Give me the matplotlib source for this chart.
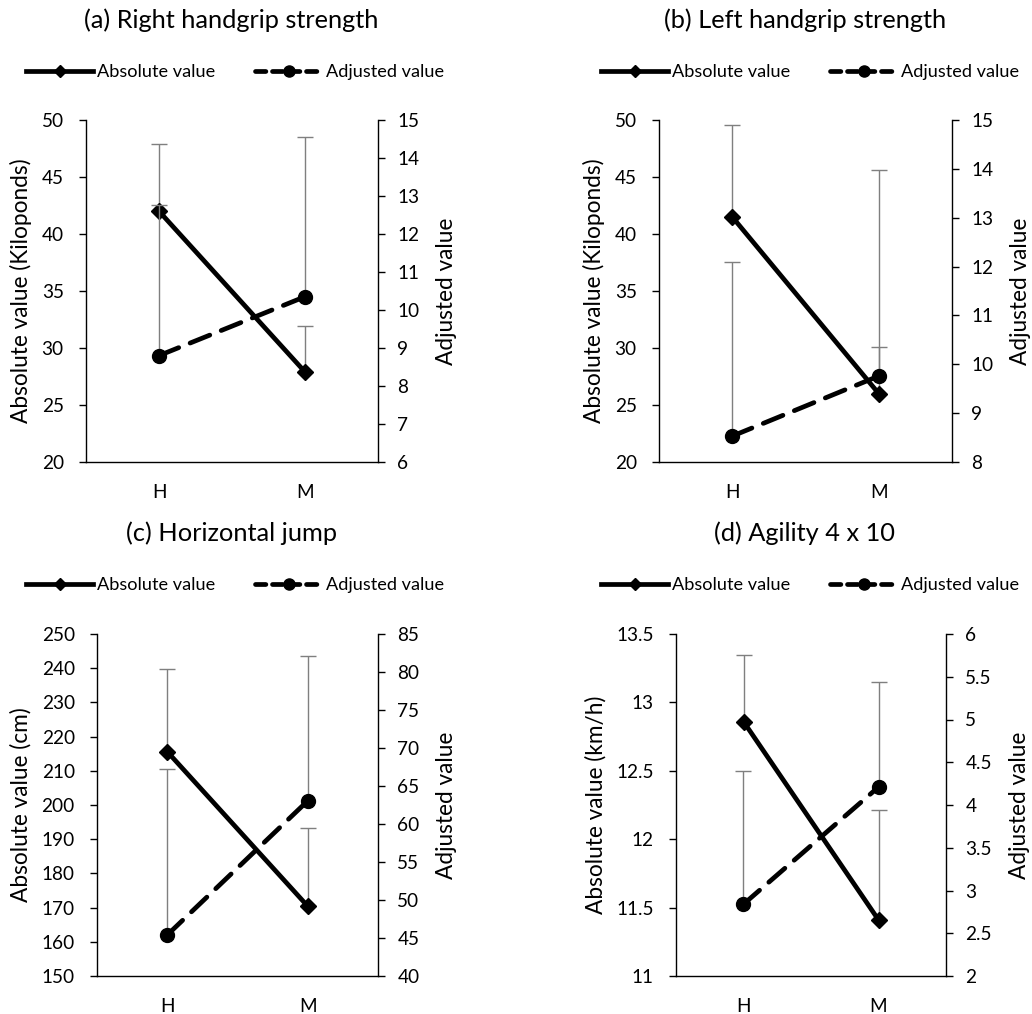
import numpy as np
import matplotlib
matplotlib.use("Agg")
import matplotlib.pyplot as plt
from matplotlib.ticker import FuncFormatter
from matplotlib.lines import Line2D

plt.rcParams["font.family"] = ["Lato", "DejaVu Sans"]

# -----------------------------
# Data
# -----------------------------
groups = ["H", "M"]

titles = ["(a) Right handgrip strength", "(b) Left handgrip strength",
          "(c) Horizontal jump", "(d) Agility 4 x 10"]
left_labels = ["Absolute value (Kiloponds)", "Absolute value (Kiloponds)",
               "Absolute value (cm)", "Absolute value (km/h)"]

abs_right_grip = [42.0, 27.9]
abs_right_grip_sd = [5.9, 4.0]
adj_right_grip = [8.8, 10.35]
adj_right_grip_sd = [3.95, 4.2]

abs_left_grip = [41.5, 26.0]
abs_left_grip_sd = [8.05, 4.1]
adj_left_grip = [8.53, 9.76]
adj_left_grip_sd = [3.56, 4.22]

abs_jump = [215.6, 170.4]
abs_jump_sd = [24.2, 23.0]
adj_jump = [45.4, 63.05]
adj_jump_sd = [21.8, 19.05]

abs_agility = [12.86, 11.41]
abs_agility_sd = [0.49, 0.80]
adj_agility = [2.84, 4.21]
adj_agility_sd = [1.56, 1.23]

left_ticks = [np.arange(20, 51, 5), np.arange(20, 51, 5),
              np.arange(150, 251, 10), np.arange(11, 13.51, 0.5)]
right_ticks = [np.arange(6, 16, 1), np.arange(8, 16, 1),
               np.arange(40, 86, 5), np.arange(2, 6.01, 0.5)]

# -----------------------------
# Layout (pixels of a 1032x1014 canvas)
# -----------------------------
W, H = 1032, 1014
axes_px = [(86, 120, 378, 462), (659, 120, 952, 462),
           (97, 634, 378, 976), (676, 634, 946, 976)]
title_px = [(231, 20), (805, 20), (231, 533), (805, 533)]
legend_cx = [235, 810, 235, 810]

GRAY = "#7f7f7f"
TICK_FS = 13.7


def fmt(x, pos):
    return f"{x:g}"


def draw_panel(fig, i, abs_v, abs_sd, adj_v, adj_sd):
    x0, y0, x1, y1 = axes_px[i]
    ax = fig.add_axes([x0 / W, 1 - y1 / H, (x1 - x0) / W, (y1 - y0) / H])
    ax2 = ax.twinx()
    xs = np.arange(len(groups))

    # error bars (upper only, Excel style)
    for a, v, sd in [(ax, abs_v, abs_sd), (ax2, adj_v, adj_sd)]:
        eb = a.errorbar(xs, v, yerr=[np.zeros(len(sd)), sd], fmt="none",
                        ecolor=GRAY, elinewidth=1.0, capsize=5.5, capthick=1.0,
                        zorder=1)
        eb[1][0].set_visible(False)

    ax.plot(xs, abs_v, color="black", lw=3.4, marker="D", ms=8.5,
            solid_capstyle="butt", zorder=3)
    ax2.plot(xs, adj_v, color="black", lw=3.4, marker="o", ms=10,
             linestyle=(0, (4.5, 2.6)), dash_capstyle="round", zorder=3)

    ax.set_xlim(-0.5, 1.5)
    ax.set_xticks(xs)
    ax.set_xticklabels(groups)
    ax.tick_params(axis="x", length=0, pad=16, labelsize=TICK_FS)

    lt, rt = left_ticks[i], right_ticks[i]
    ax.set_ylim(lt[0], lt[-1])
    ax.set_yticks(lt)
    ax2.set_ylim(rt[0], rt[-1])
    ax2.set_yticks(rt)
    ax.yaxis.set_major_formatter(FuncFormatter(fmt))
    ax2.yaxis.set_major_formatter(FuncFormatter(fmt))
    ax.tick_params(axis="y", length=5, width=1, pad=11, labelsize=TICK_FS)
    ax2.tick_params(axis="y", length=5, width=1, pad=9, labelsize=TICK_FS)

    for a in (ax, ax2):
        a.spines["top"].set_visible(False)
        for s in ("left", "right", "bottom"):
            a.spines[s].set_linewidth(1.0)
    ax.spines["right"].set_visible(False)
    ax2.spines["left"].set_visible(False)
    ax2.spines["bottom"].set_visible(False)

    ax.set_ylabel(left_labels[i], fontsize=16.3, labelpad=7)
    ax2.set_ylabel("Adjusted value", fontsize=16.3, labelpad=12)

    tx, ty = title_px[i]
    fig.text(tx / W, 1 - ty / H, titles[i], ha="center", va="center", fontsize=18.3)

    handles = [
        Line2D([], [], color="black", lw=3.4, marker="D", ms=6),
        Line2D([], [], color="black", lw=3.4, marker="o", ms=8,
               linestyle=(0, (2.2, 1.4)), dash_capstyle="round"),
    ]
    fig.legend(handles, ["Absolute value", "Adjusted value"], ncol=2,
               loc="center", bbox_to_anchor=(legend_cx[i] / W, 1 - (ty + 52) / H),
               frameon=False, fontsize=13.1, handlelength=3.7, handletextpad=0.2,
               columnspacing=2.2)


fig = plt.figure(figsize=(W / 100, H / 100), dpi=100)

draw_panel(fig, 0, abs_right_grip, abs_right_grip_sd, adj_right_grip, adj_right_grip_sd)
draw_panel(fig, 1, abs_left_grip, abs_left_grip_sd, adj_left_grip, adj_left_grip_sd)
draw_panel(fig, 2, abs_jump, abs_jump_sd, adj_jump, adj_jump_sd)
draw_panel(fig, 3, abs_agility, abs_agility_sd, adj_agility, adj_agility_sd)

fig.savefig("out.png", dpi=100)
